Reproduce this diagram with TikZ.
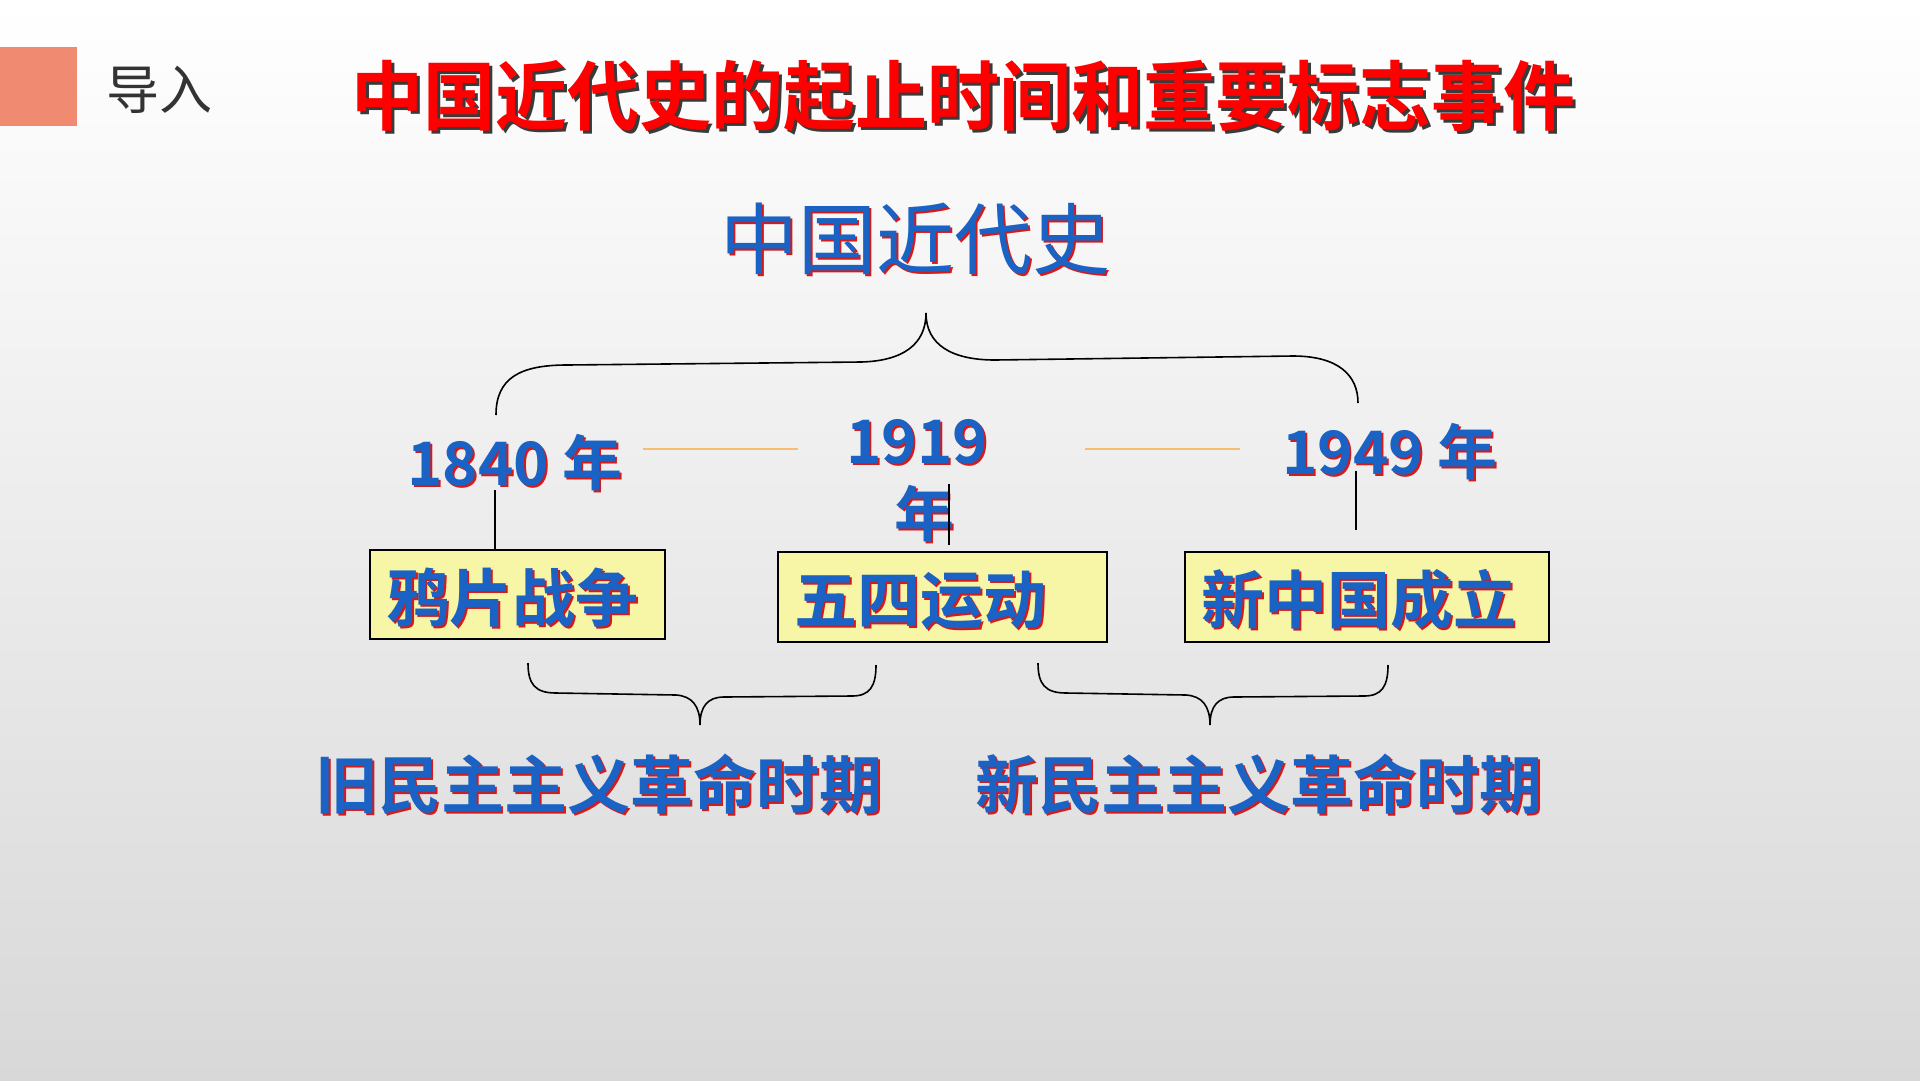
\documentclass[tikz,border=0pt]{standalone}
\usepackage{fontspec}
\newfontfamily\cjk{Noto Sans CJK SC}
\newfontfamily\cjkb{Noto Sans CJK SC Bold}
\usetikzlibrary{calc}
\definecolor{bgbot}{HTML}{D8D8D8}
\definecolor{salmon}{HTML}{F08A70}
\definecolor{myblue}{HTML}{1A62C4}
\definecolor{myred}{HTML}{D41A1A}
\definecolor{titlered}{HTML}{FF0000}
\definecolor{titleshadow}{HTML}{3A3A3A}
\definecolor{boxyellow}{HTML}{F7F5A6}
\definecolor{lineorange}{HTML}{F6BE6E}
\newcommand\fTitleX{\cjkb\fontsize{72}{80}\selectfont}
\newcommand\fIntroX{\cjk\fontsize{53}{60}\selectfont}
\newcommand\fHeadX{\cjk\fontsize{78}{90}\selectfont}
\newcommand\fYearX{\cjkb\fontsize{60}{70}\selectfont}
\newcommand\fBoxX{\cjkb\fontsize{63}{70}\selectfont}
\begin{document}
\begin{tikzpicture}[x=1pt,y=-1pt,
  lbl/.style={inner sep=0pt, anchor=center},
  fg/.style={lbl, text=myblue},
  sh/.style={lbl, text=myred},
  ttl/.style={lbl, text=titlered, font=\fTitleX, yscale=1.05},
  ttlsh/.style={lbl, text=titleshadow, font=\fTitleX, yscale=1.05},
  evbox/.style={draw=black, line width=1.5pt, fill=boxyellow, inner sep=0pt},
  conn/.style={draw=black, line width=1.2pt},
  olink/.style={draw=lineorange, line width=2pt},
  brace/.style={draw=black, line width=1.6pt}]
\shade[top color=white, bottom color=bgbot] (0,0) rectangle (1920,1080);
\useasboundingbox (0,0) rectangle (1920,1080);
% header
\fill[salmon] (0,47) rectangle (77,126);
\node[lbl, text=black!80, font=\fIntroX] (intro) at (159,90) {导入};
\node[ttlsh] (titles) at (966,99) {中国近代史的起止时间和重要标志事件};
\node[ttl] (title) at (963,96) {中国近代史的起止时间和重要标志事件};
% heading
\node[sh, font=\fHeadX] (heads) at (917,241) {中国近代史};
\node[fg, font=\fHeadX] (head) at (915,239) {中国近代史};
% top brace
\draw[brace] (496,415) .. controls (496,378) and (520,365) .. (567,365)
  -- (861,362) .. controls (902,361) and (926,345) .. (926,313)
  .. controls (926,345) and (952,360) .. (995,360)
  -- (1293,356) .. controls (1338,356) and (1358,375) .. (1358,403);
% years
\node[sh, font=\fYearX] (y1s) at (517,465) {1840 年};
\node[fg, font=\fYearX] (y1) at (515,463) {1840 年};
\node[sh, font=\fYearX] (y2as) at (919,444) {1919};
\node[fg, font=\fYearX] (y2a) at (917,442) {1919};
\node[sh, font=\fYearX] (y2bs) at (926,516) {年};
\node[fg, font=\fYearX] (y2b) at (924,514) {年};
\node[sh, font=\fYearX] (y3s) at (1392,454) {1949 年};
\node[fg, font=\fYearX] (y3) at (1390,452) {1949 年};
% orange links
\coordinate (o1a) at (643,449); \coordinate (o1b) at (798,449);
\coordinate (o2a) at (1085,449); \coordinate (o2b) at (1240,449);
\draw[olink] (o1a) -- (o1b);
\draw[olink] (o2a) -- (o2b);
% boxes
\node[evbox, minimum width=295pt, minimum height=89pt] (b1) at (517.5,594.5) {};
\node[evbox, minimum width=329pt, minimum height=90pt] (b2) at (942.5,597) {};
\node[evbox, minimum width=364pt, minimum height=90pt] (b3) at (1367,597) {};
\node[sh, font=\fBoxX] (t1s) at (514,600) {鸦片战争};
\node[fg, font=\fBoxX] (t1) at (512,598) {鸦片战争};
\node[sh, font=\fBoxX] (t2s) at (922,602) {五四运动};
\node[fg, font=\fBoxX] (t2) at (920,600) {五四运动};
\node[sh, font=\fBoxX] (t3s) at (1361,602) {新中国成立};
\node[fg, font=\fBoxX] (t3) at (1359,600) {新中国成立};
% vertical connectors
\coordinate (v1) at (495,490);
\draw[conn] (v1) -- (v1 |- b1.north);
\coordinate (v2a) at (949,484); \coordinate (v2b) at (949,545);
\draw[conn] (v2a) -- (v2b);
\coordinate (v3a) at (1356,471); \coordinate (v3b) at (1356,530);
\draw[conn] (v3a) -- (v3b);
% lower braces
\draw[brace] (528,663) .. controls (528,684) and (535,693) .. (556,693)
  -- (676,695) .. controls (692,696) and (700,706) .. (700,725)
  .. controls (700,706) and (708,697) .. (724,697)
  -- (852,696) .. controls (870,696) and (876,686) .. (876,665);
\draw[brace] (1038,663) .. controls (1038,684) and (1045,693) .. (1066,693)
  -- (1186,695) .. controls (1202,696) and (1210,706) .. (1210,725)
  .. controls (1210,706) and (1218,697) .. (1234,697)
  -- (1364,696) .. controls (1382,696) and (1388,686) .. (1388,665);
% periods
\node[sh, font=\fBoxX] (p1s) at (601,786) {旧民主主义革命时期};
\node[fg, font=\fBoxX] (p1) at (599,784) {旧民主主义革命时期};
\node[sh, font=\fBoxX] (p2s) at (1261,786) {新民主主义革命时期};
\node[fg, font=\fBoxX] (p2) at (1259,784) {新民主主义革命时期};
\end{tikzpicture}
\end{document}
